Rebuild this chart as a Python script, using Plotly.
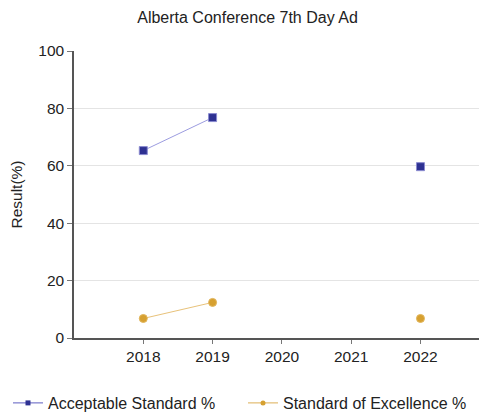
import plotly.graph_objects as go

years = [2018, 2019, 2020, 2021, 2022]
acceptable = [65.3, 76.8, None, None, 59.7]
excellence = [6.8, 12.4, None, None, 6.8]
tick_labels = ["2018", "2019", "2020", "2021", "2022"]

W, H = 479, 405  # page body has an 8px margin
L, R, T, B = 66, 0, 43, 75
PW, PH = W - L - R, H - T - B

BLUE, BLUE_LINE = "#2e3192", "#9c9ce0"
GOLD, GOLD_LINE = "#d6a030", "#e8c27a"

fig = go.Figure()
fig.add_trace(go.Scatter(
    x=years, y=acceptable, name="Acceptable Standard %", mode="lines+markers",
    line=dict(color=BLUE_LINE, width=1),
    marker=dict(symbol="square", size=8, color=BLUE, line=dict(color="#8a8ad0", width=1)),
    connectgaps=False, showlegend=False,
))
fig.add_trace(go.Scatter(
    x=years, y=excellence, name="Standard of Excellence %", mode="lines+markers",
    line=dict(color=GOLD_LINE, width=1),
    marker=dict(symbol="circle", size=8, color=GOLD, line=dict(color="#e2b65c", width=1)),
    connectgaps=False, showlegend=False,
))
# legend entries with smaller markers
fig.add_trace(go.Scatter(
    x=[None], y=[None], name="Acceptable Standard %", mode="lines+markers",
    line=dict(color="#5c5cc0", width=1),
    marker=dict(symbol="square", size=5, color=BLUE),
))
fig.add_trace(go.Scatter(
    x=[None], y=[None], name="Standard of Excellence %", mode="lines+markers",
    line=dict(color="#dcae55", width=1),
    marker=dict(symbol="circle", size=5, color=GOLD),
))

fig.update_layout(
    width=W, height=H,
    margin=dict(l=L, r=R, t=T, b=B, autoexpand=False),
    paper_bgcolor="white", plot_bgcolor="white",
    font=dict(family="Liberation Sans, Arial, sans-serif", size=15.5, color="#222222"),
    title=dict(text="Alberta Conference 7th Day Ad", x=0.5, xanchor="center", xref="container",
               y=1 - 9 / H, yanchor="middle", yref="container",
               font=dict(size=16, color="#222222")),
    showlegend=True,
    legend=dict(orientation="h", x=-L / PW, xanchor="left", xref="paper",
                y=-65 / PH, yanchor="middle", yref="paper",
                font=dict(size=16, color="#222222"),
                itemwidth=30, entrywidth=190, entrywidthmode="pixels",
                tracegroupgap=0, bgcolor="rgba(0,0,0,0)"),
)
fig.update_xaxes(
    range=[2017, 2022.96], tickvals=years, ticktext=tick_labels,
    showgrid=False, showline=True, linecolor="#555555", linewidth=1.5,
    ticks="outside", ticklen=4, tickcolor="#777777", zeroline=False,
    tickfont=dict(size=15.5, color="#222222"),
)
fig.update_yaxes(
    range=[0, 100], dtick=20,
    title=dict(text="Result(%)", font=dict(size=15.5, color="#222222"), standoff=14),
    showgrid=True, gridcolor="#e4e4e4", gridwidth=1,
    showline=True, linecolor="#555555", linewidth=1.5,
    ticks="outside", ticklen=5, tickcolor="#777777", zeroline=False,
    tickfont=dict(size=15.5, color="#222222"),
)

fig.write_html("out.html")
